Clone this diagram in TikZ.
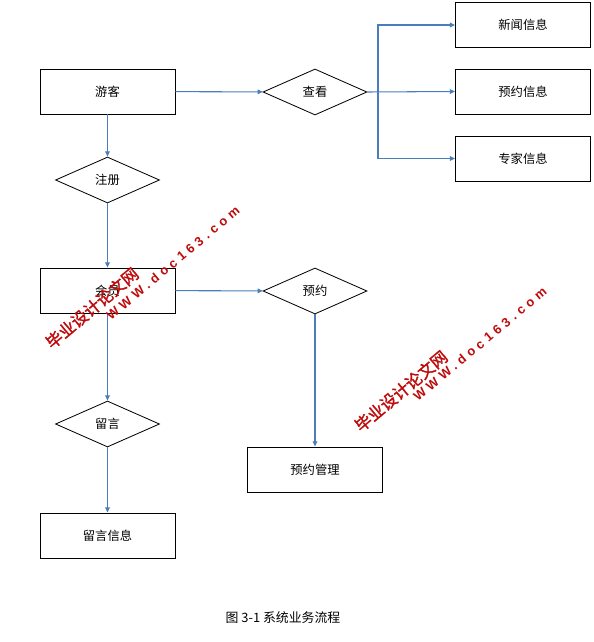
\documentclass[tikz,border=0pt]{standalone}
\usepackage{fontspec}
\setmainfont{Noto Sans CJK SC}
\newfontfamily\wmcjk{Noto Sans CJK SC}[AutoFakeBold=1.6]
\newfontfamily\wmlatin{Liberation Sans}[LetterSpace=33]
\usetikzlibrary{shapes.geometric,arrows.meta}
\definecolor{flowblue}{RGB}{74,126,187}
\definecolor{wmred}{RGB}{190,10,10}
\tikzset{
    box/.style={draw, line width=0.8pt, minimum width=4.05cm, minimum height=1.35cm,
        inner sep=0pt, font=\fontsize{10.5pt}{12pt}\selectfont},
    choice/.style={draw, diamond, line width=0.7pt, minimum width=3.12cm, minimum height=1.38cm,
        aspect=2.26, inner sep=0pt, font=\fontsize{10.5pt}{12pt}\selectfont},
    flow/.style={-{Triangle[length=4.5pt,width=4pt]}, draw=flowblue, line width=0.9pt},
    wmtext/.style={text=wmred, rotate=40, inner sep=0pt}
}
\begin{document}
\begin{tikzpicture}[x=0.03cm,y=-0.03cm]
    \useasboundingbox (0,0) rectangle (594,642);

    % top row
    \node[box] (guest) at (107.5,91.5) {游客};
    \node[choice] (view) at (315,92) {查看};
    \node[box] (news) at (523,25) {新闻信息};
    \node[box] (booking) at (523,91.5) {预约信息};
    \node[box] (expert) at (523,158.5) {专家信息};

    % left column
    \node[choice] (register) at (107.5,180) {注册};
    \node[box] (member) at (107.5,290.5) {会员};
    \node[choice] (message) at (107.5,424) {留言};
    \node[box] (msginfo) at (107.5,535.5) {留言信息};

    % reservation
    \node[choice] (reserve) at (315,291) {预约};
    \node[box] (resmanage) at (315,469.5) {预约管理};

    \node[font=\fontsize{11pt}{13pt}\selectfont] (caption) at (283,618) {图 3-1 系统业务流程};

    % connectors
    \coordinate (split) at (378,92);
    \draw[flow] (guest) -- (view);
    \draw[flow] (view.east) -- (booking.west);
    \draw[flow] (split) |- (news.west);
    \draw[flow] (split) |- (expert.west);

    \draw[flow] (guest) -- (register);
    \draw[flow] (register) -- (member);
    \draw[flow] (member) -- (reserve);
    \draw[flow] (reserve) -- (resmanage);
    \draw[flow] (member) -- (message);
    \draw[flow] (message) -- (msginfo);

    % watermark
    \node[wmtext, font=\wmcjk\bfseries\fontsize{14pt}{16pt}\selectfont] (wmcn1) at (92,308) {毕业设计论文网};
    \node[wmtext, font=\wmlatin\bfseries\fontsize{11pt}{13pt}\selectfont] (wmen1) at (173,263) {WWW.doc163.com};
    \node[wmtext, font=\wmcjk\bfseries\fontsize{14pt}{16pt}\selectfont] (wmcn2) at (401,391) {毕业设计论文网};
    \node[wmtext, font=\wmlatin\bfseries\fontsize{11pt}{13pt}\selectfont] (wmen2) at (480,344) {WWW.doc163.com};
\end{tikzpicture}
\end{document}
